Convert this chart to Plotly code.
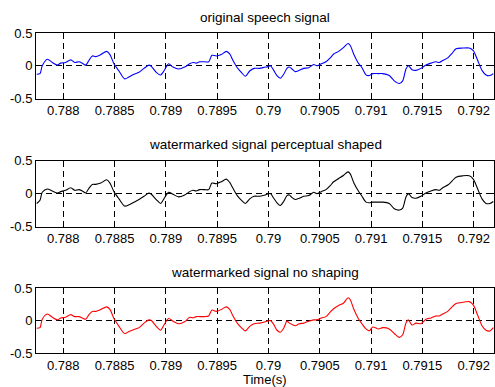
import plotly.graph_objects as go

# ---------------- data ----------------
time_s = [0.787741, 0.787773, 0.787795, 0.787844, 0.787893, 0.787942, 0.787975, 0.788023, 0.788072, 0.788111,
          0.788153, 0.788185, 0.788218, 0.788250, 0.788283, 0.788316, 0.788365, 0.788423, 0.788455, 0.788494,
          0.788543, 0.788598, 0.788640, 0.788689, 0.788738, 0.788787, 0.788835, 0.788858, 0.788906, 0.788949,
          0.788981, 0.789027, 0.789069, 0.789125, 0.789183, 0.789232, 0.789264, 0.789296, 0.789329, 0.789378,
          0.789417, 0.789449, 0.789491, 0.789540, 0.789589, 0.789622, 0.789654, 0.789696, 0.789735, 0.789774,
          0.789817, 0.789859, 0.789914, 0.789969, 0.789985, 0.790018, 0.790051, 0.790083, 0.790115, 0.790148,
          0.790180, 0.790203, 0.790229, 0.790261, 0.790300, 0.790343, 0.790392, 0.790441, 0.790473, 0.790515,
          0.790560, 0.790602, 0.790635, 0.790684, 0.790733, 0.790775, 0.790797, 0.790830, 0.790872, 0.790911,
          0.790950, 0.790982, 0.791016, 0.791074, 0.791113, 0.791177, 0.791226, 0.791275, 0.791308, 0.791340,
          0.791363, 0.791399, 0.791438, 0.791486, 0.791535, 0.791584, 0.791633, 0.791665, 0.791698, 0.791747,
          0.791789, 0.791828, 0.791893, 0.791957, 0.791996, 0.792039, 0.792081, 0.792120, 0.792159, 0.792191]

original = [-0.13, -0.12, 0.00, 0.10, 0.05, 0.01, 0.04, 0.05, 0.09, 0.05,
            0.06, 0.04, 0.01, 0.08, 0.15, 0.14, 0.17, 0.22, 0.17, 0.03,
            -0.08, -0.20, -0.17, -0.13, -0.10, -0.04, 0.01, -0.01, -0.10, -0.14,
            -0.08, 0.03, -0.02, -0.05, -0.02, 0.03, 0.05, 0.04, 0.06, 0.06,
            0.06, 0.16, 0.15, 0.17, 0.22, 0.18, 0.08, -0.03, -0.10, -0.16,
            -0.08, -0.04, -0.04, -0.02, -0.02, 0.00, -0.07, -0.15, -0.19, -0.13,
            -0.04, -0.02, -0.05, -0.09, -0.07, -0.04, -0.03, 0.02, 0.00, 0.03,
            0.06, 0.12, 0.18, 0.22, 0.28, 0.34, 0.31, 0.18, 0.05, -0.03,
            -0.14, -0.15, -0.12, -0.12, -0.12, -0.15, -0.23, -0.27, -0.23, -0.05,
            0.00, -0.06, -0.07, -0.04, 0.01, 0.04, 0.06, 0.05, 0.08, 0.12,
            0.19, 0.26, 0.27, 0.27, 0.23, 0.08, -0.07, -0.14, -0.15, -0.12]

perceptual = [-0.15, -0.10, 0.02, 0.07, 0.04, 0.01, 0.03, 0.05, 0.09, 0.05,
              0.06, 0.04, 0.01, 0.08, 0.14, 0.14, 0.16, 0.21, 0.16, 0.03,
              -0.08, -0.19, -0.17, -0.13, -0.09, -0.04, 0.01, -0.01, -0.09, -0.15,
              -0.08, 0.02, -0.01, -0.05, -0.02, 0.03, 0.05, 0.04, 0.06, 0.06,
              0.06, 0.16, 0.15, 0.18, 0.22, 0.17, 0.08, -0.03, -0.10, -0.15,
              -0.08, -0.04, -0.04, -0.02, -0.01, 0.00, -0.07, -0.14, -0.18, -0.12,
              -0.03, -0.02, -0.06, -0.09, -0.07, -0.04, -0.03, 0.02, 0.00, 0.03,
              0.06, 0.12, 0.18, 0.23, 0.28, 0.33, 0.30, 0.17, 0.05, -0.04,
              -0.13, -0.14, -0.13, -0.13, -0.13, -0.15, -0.23, -0.25, -0.22, -0.05,
              0.00, -0.06, -0.07, -0.04, 0.01, 0.04, 0.06, 0.05, 0.09, 0.13,
              0.19, 0.25, 0.27, 0.27, 0.22, 0.07, -0.08, -0.15, -0.15, -0.12]

no_shaping = [-0.12, -0.11, 0.02, 0.10, 0.05, 0.01, 0.04, 0.05, 0.09, 0.06,
              0.06, 0.04, 0.02, 0.09, 0.14, 0.14, 0.17, 0.21, 0.17, 0.03,
              -0.09, -0.20, -0.17, -0.14, -0.11, -0.04, 0.01, 0.00, -0.09, -0.15,
              -0.07, 0.03, -0.01, -0.05, -0.02, 0.05, 0.04, 0.06, 0.06, 0.06,
              0.07, 0.16, 0.14, 0.17, 0.21, 0.17, 0.07, -0.04, -0.11, -0.16,
              -0.09, -0.05, -0.04, -0.02, -0.01, 0.00, -0.06, -0.15, -0.18, -0.12,
              -0.01, -0.04, -0.06, -0.08, -0.05, -0.04, -0.01, 0.01, 0.01, 0.04,
              0.06, 0.13, 0.18, 0.23, 0.27, 0.35, 0.32, 0.18, 0.04, -0.05,
              -0.13, -0.16, -0.10, -0.13, -0.11, -0.13, -0.20, -0.26, -0.22, -0.04,
              0.01, -0.07, -0.04, -0.05, 0.02, 0.04, 0.07, 0.07, 0.10, 0.14,
              0.21, 0.26, 0.28, 0.29, 0.24, 0.08, -0.08, -0.15, -0.16, -0.11]

panel_titles = ["original speech signal", "watermarked signal perceptual shaped", "watermarked signal no shaping"]
series_colors = ["#0000ff", "#000000", "#ff0000"]
x_tickvals = [0.788, 0.7885, 0.789, 0.7895, 0.790, 0.7905, 0.791, 0.7915, 0.792]
x_ticktext = ["0.788", "0.7885", "0.789", "0.7895", "0.79", "0.7905", "0.791", "0.7915", "0.792"]
y_tickvals = [-0.5, 0, 0.5]
y_ticktext = ["-0.5", "0", "0.5"]
x_range = [0.787734, 0.792198]
y_range = [-0.5, 0.5]
x_label = "Time(s)"

# ---------------- layout ----------------
W, H = 495, 387
FONT = "Liberation Sans, Arial, Helvetica, sans-serif"
x_dom = [36 / W, 494 / W]
panels_px = [(33, 98.5), (160.7, 226.5), (288, 353)]  # (top, bottom) in px

fig = go.Figure()
series = [original, perceptual, no_shaping]
layout = dict(
    width=W, height=H,
    margin=dict(l=0, r=0, t=0, b=0, pad=0, autoexpand=False),
    paper_bgcolor="white", plot_bgcolor="white",
    showlegend=False,
    font=dict(family=FONT, size=13, color="black"),
)
annotations = []
for i, (vals, col, title, (top, bot)) in enumerate(zip(series, series_colors, panel_titles, panels_px)):
    n = "" if i == 0 else str(i + 1)
    fig.add_trace(go.Scatter(x=time_s, y=vals, mode="lines",
                             line=dict(color=col, width=1.1, shape="spline", smoothing=0.8),
                             xaxis="x" + n, yaxis="y" + n, hoverinfo="skip"))
    common = dict(showline=True, linecolor="black", linewidth=1, mirror="ticks",
                  ticks="inside", ticklen=4, tickcolor="black", tickwidth=1,
                  showgrid=True, gridcolor="black", gridwidth=1, griddash="6px,4px",
                  zeroline=False, automargin=False,
                  tickfont=dict(family=FONT, size=13, color="black"))
    layout["xaxis" + n] = dict(common, domain=x_dom, range=x_range, anchor="y" + n,
                               tickmode="array", tickvals=x_tickvals, ticktext=x_ticktext)
    layout["yaxis" + n] = dict(common, domain=[1 - bot / H, 1 - top / H], range=y_range,
                               anchor="x" + n, tickmode="array", tickvals=y_tickvals,
                               ticktext=y_ticktext)
    annotations.append(dict(text=title, xref="paper", yref="paper",
                            x=(x_dom[0] + x_dom[1]) / 2, y=1 - (top - 16) / H,
                            xanchor="center", yanchor="middle", showarrow=False,
                            font=dict(family=FONT, size=13.5, color="black")))

annotations.append(dict(text=x_label, xref="paper", yref="paper",
                        x=(x_dom[0] + x_dom[1]) / 2, y=1 - 379 / H,
                        xanchor="center", yanchor="middle", showarrow=False,
                        font=dict(family=FONT, size=13, color="black")))
layout["annotations"] = annotations
fig.update_layout(**layout)
fig.write_html("out.html")
